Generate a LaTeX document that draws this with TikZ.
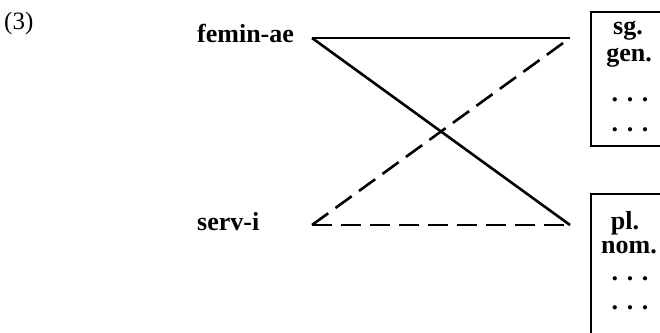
\documentclass[tikz,border=0pt]{standalone}
\usepackage{fontspec}
\setmainfont{Liberation Serif}
\usetikzlibrary{positioning}

\begin{document}
\begin{tikzpicture}[x=1pt,y=-1pt, every node/.style={font=\fontsize{26}{28}\selectfont\bfseries, inner sep=0pt},
  link/.style={line width=2.6pt},
  altlink/.style={line width=2.6pt, dash pattern=on 20pt off 9pt},
  casebox/.style={draw, line width=2pt, anchor=north west, minimum width=100pt}]
\useasboundingbox (0,0) rectangle (660,332);
\node[anchor=base west,font=\fontsize{25}{27}\selectfont] (ex) at (4,29) {(3)};
\node[anchor=base west] (fem) at (197,42) {femin-ae};
\node[anchor=base west] (serv) at (197,230) {serv-i};
\coordinate (f0) at (312,38);
\coordinate (f1) at (570,38);
\coordinate (s0) at (312,225);
\coordinate (s1) at (570,225);
\draw[link] (f0) -- (f1);
\draw[link] (f0) -- (s1);
\draw[altlink] (s0) -- (s1);
\draw[altlink] (s0) -- (f1);
% the two case boxes, cut by the right margin
\node[casebox, minimum height=134pt] (sgbox) at (590,11) {};
\node[casebox, minimum height=150pt] (plbox) at (590,193) {};
\node[anchor=base] (sg) at (628,34) {sg.};
\node[anchor=base] (gen) at (629,61) {gen.};
\node[anchor=base] (sgd1) at (630,101) {. . .};
\node[anchor=base] (sgd2) at (630,131) {. . .};
\node[anchor=base] (pl) at (625,229) {pl.};
\node[anchor=base] (nom) at (629,253) {nom.};
\node[anchor=base] (pld1) at (630,280) {. . .};
\node[anchor=base] (pld2) at (630,309) {. . .};
\end{tikzpicture}
\end{document}
